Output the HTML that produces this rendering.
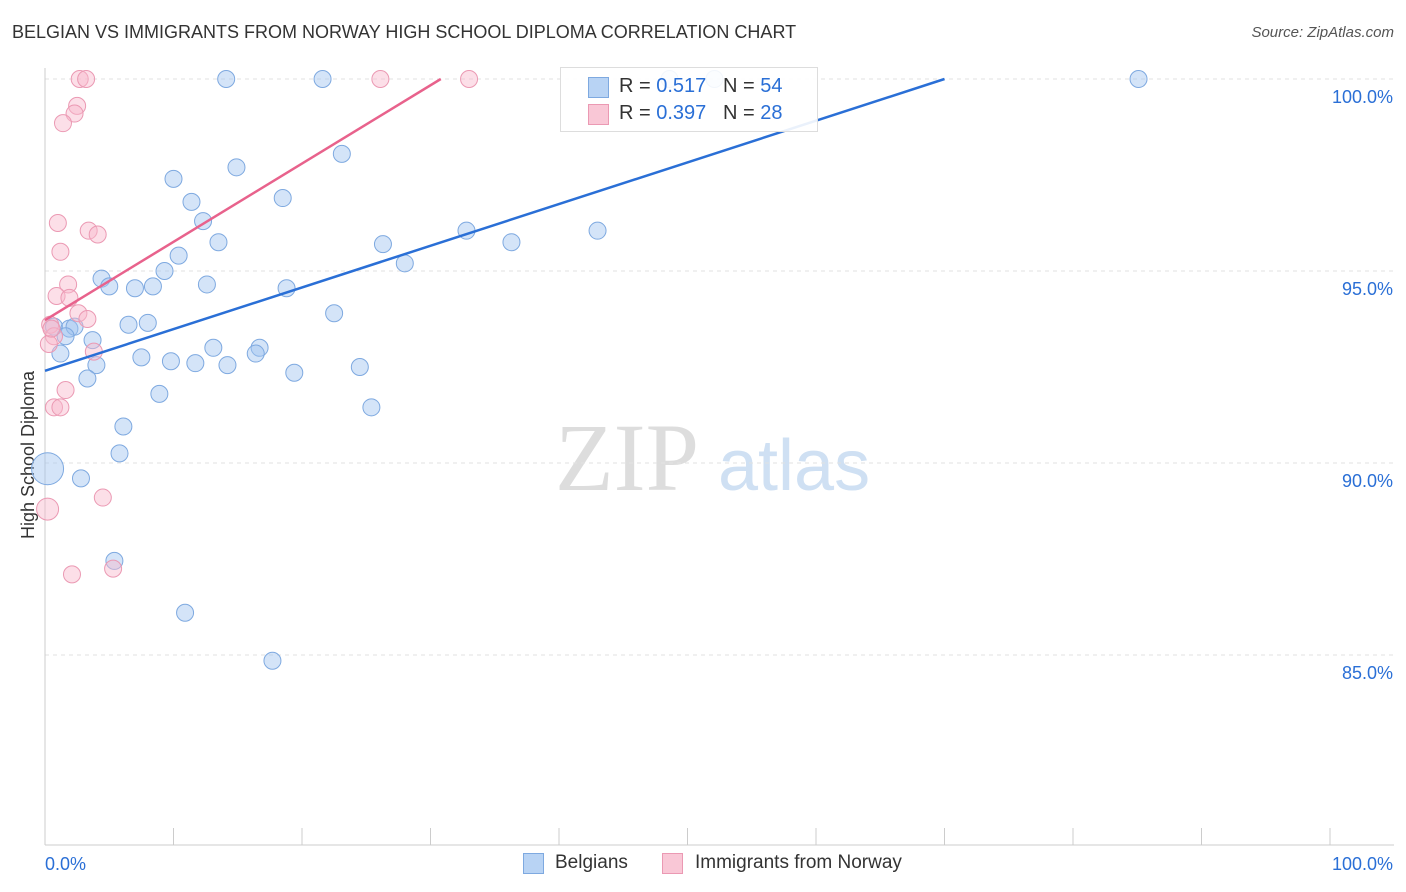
<!DOCTYPE html>
<html><head><meta charset="utf-8"><style>
body{margin:0;background:#fff;font-family:"Liberation Sans",sans-serif;}
.t{position:absolute;}
</style></head><body>
<div style="position:relative;width:1406px;height:892px;overflow:hidden">
<div class="t" style="left:12px;top:22px;font-size:18px;color:#333">BELGIAN VS IMMIGRANTS FROM NORWAY HIGH SCHOOL DIPLOMA CORRELATION CHART</div>
<div class="t" style="right:12px;top:24px;font-size:15px;color:#555;font-style:italic">Source: ZipAtlas.com</div>
<svg id="svg" width="1406" height="892" style="position:absolute;left:0;top:0">
<text x="555" y="490" font-size="96" font-family="Liberation Serif" fill="#ddd">ZIP</text>
<text x="718" y="490" font-size="72" fill="#cfe0f3">atlas</text>
<text transform="translate(34,455) rotate(-90)" text-anchor="middle" font-size="18" fill="#333">High School Diploma</text>
</svg>
<div class="t" style="left:560px;top:67px;width:256px;height:63px;border:1px solid #ddd;background:rgba(255,255,255,0.9);font-size:20px;color:#333">
<div style="position:absolute;left:27px;top:9px;width:19px;height:19px;background:#b8d3f4;border:1px solid #7ea9e0"></div>
<div style="position:absolute;left:58px;top:7px">R = <span style="color:#2a6fd6">0.517</span> &nbsp; N = <span style="color:#2a6fd6">54</span></div>
<div style="position:absolute;left:27px;top:36px;width:19px;height:19px;background:#f9c7d6;border:1px solid #eb99b3"></div>
<div style="position:absolute;left:58px;top:34px">R = <span style="color:#2a6fd6">0.397</span> &nbsp; N = <span style="color:#2a6fd6">28</span></div>
</div>
<div class="t" style="left:523px;top:853px;width:19px;height:19px;background:#b8d3f4;border:1px solid #7ea9e0"></div>
<div class="t" style="left:555px;top:852px;font-size:19px;color:#333">Belgians</div>
<div class="t" style="left:662px;top:853px;width:19px;height:19px;background:#f9c7d6;border:1px solid #eb99b3"></div>
<div class="t" style="left:695px;top:852px;font-size:19px;color:#333">Immigrants from Norway</div>
</div>
<script>
const xTicks=[0,10,20,30,40,50,60,70,80,90,100];
const yTicks=[85,90,95,100];
const blueX=[14.1,21.6,52.1,85.1,23.1,14.9,10,18.5,11.4,12.3,32.8,43,13.5,26.3,36.3,10.4,28,9.3,4.4,5,12.6,7,8.4,18.8,22.5,8,6.5,0.7,1.9,2.3,1.6,3.7,13.1,16.7,16.4,1.2,7.5,9.8,11.7,14.2,4.0,24.5,19.4,3.3,8.9,25.4,6.1,5.8,2.8,0.2,5.4,10.9,17.7,48.6];
const blueY=[100,100,100,100,98.05,97.7,97.4,96.9,96.8,96.3,96.05,96.05,95.75,95.7,95.75,95.4,95.2,95,94.8,94.6,94.65,94.55,94.6,94.55,93.9,93.65,93.6,93.55,93.5,93.55,93.3,93.2,93.0,93.0,92.85,92.85,92.75,92.65,92.6,92.55,92.55,92.5,92.35,92.2,91.8,91.45,90.95,90.25,89.6,89.85,87.45,86.1,84.85,100];
const pinkX=[2.7,3.2,26.1,33,2.5,2.3,1.4,1,3.4,4.1,1.2,1.8,0.9,1.9,2.6,3.3,0.4,0.7,3.8,1.6,0.7,1.2,0.2,4.5,2.1,5.3,0.3,0.5];
const pinkY=[100,100,100,100,99.3,99.1,98.85,96.25,96.05,95.95,95.5,94.65,94.35,94.3,93.9,93.75,93.6,93.3,92.9,91.9,91.45,91.45,88.8,89.1,87.1,87.25,93.1,93.5];
const L=45,R=1330,Y100=79,PX=38.4;
const xs=v=>L+v/100*(R-L), ys=v=>Y100+(100-v)*PX;
const s=document.getElementById('svg'),NS='http://www.w3.org/2000/svg';
function mk(t,a){const e=document.createElementNS(NS,t);for(const k in a)e.setAttribute(k,a[k]);s.appendChild(e);return e;}
yTicks.forEach(v=>{
 const g=mk('line',{x1:L,x2:1394,y1:ys(v),y2:ys(v),stroke:'#e2e2e2','stroke-dasharray':'4,4'});
 
 
 const t=mk('text',{x:1393,y:ys(v)+24,'text-anchor':'end','font-size':18,fill:'#2a6fd6'});t.textContent=v.toFixed(1)+'%';
 
 
});
const ax=mk('line',{x1:L,x2:L,y1:68,y2:845,stroke:'#ccc'});


const bx=mk('line',{x1:L,x2:1394,y1:845,y2:845,stroke:'#ccc'});


xTicks.forEach(v=>{const l=mk('line',{x1:xs(v),x2:xs(v),y1:828,y2:845,stroke:'#ccc'});
 
 });
[[0,'start',45,'0.0%'],[100,'end',1393,'100.0%']].forEach(a=>{const t=mk('text',{x:a[2],y:870,'text-anchor':a[1],'font-size':18,fill:'#2a6fd6'});t.textContent=a[3];
 
 });
blueX.forEach((x,i)=>{const c=mk('circle',{cx:xs(x),cy:ys(blueY[i]),r:(i==49?16:8.5),fill:'rgba(160,196,240,0.45)',stroke:'#7ea9e0','stroke-width':1});
 
 });
pinkX.forEach((x,i)=>{const c=mk('circle',{cx:xs(x),cy:ys(pinkY[i]),r:(i==22?11:8.5),fill:'rgba(248,184,204,0.45)',stroke:'#eb99b3','stroke-width':1});
 
 });
const bl=mk('line',{x1:xs(0),y1:ys(92.4),x2:xs(70),y2:ys(100),stroke:'#2a6fd6','stroke-width':2.5});


const pl=mk('line',{x1:xs(0),y1:ys(93.72),x2:xs(30.8),y2:ys(100),stroke:'#e8628c','stroke-width':2.5});


</script>
</body></html>
